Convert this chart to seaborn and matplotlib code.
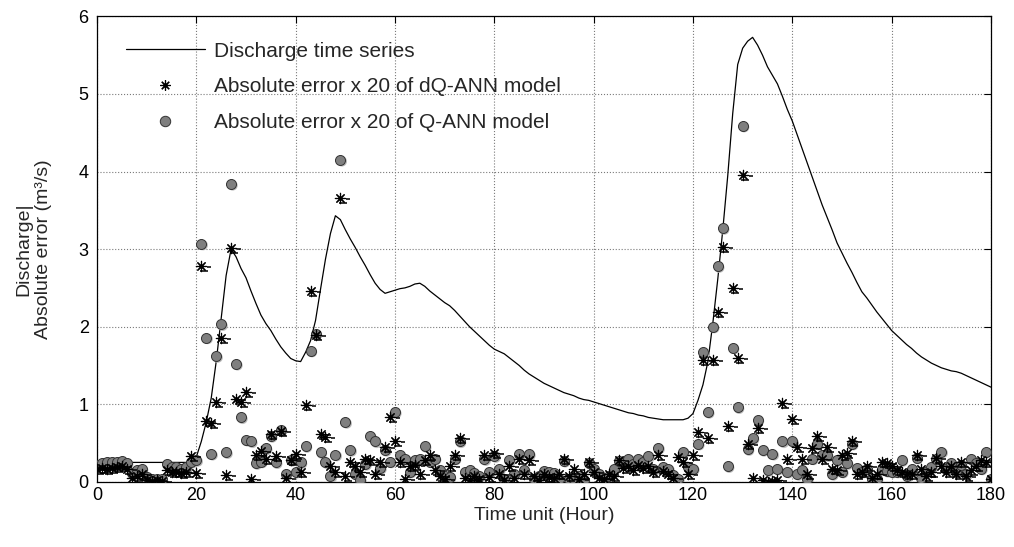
import matplotlib
matplotlib.use("Agg")
import matplotlib.pyplot as plt
import seaborn as sns
import pandas as pd
from matplotlib import transforms
from matplotlib.lines import Line2D

# ---------------- data ----------------
hours = list(range(181))

discharge = [
    0.25, 0.25, 0.25, 0.25, 0.25, 0.25, 0.25, 0.25, 0.25, 0.25,   # 0-9
    0.25, 0.25, 0.25, 0.25, 0.25, 0.25, 0.25, 0.25, 0.25, 0.27,   # 10-19
    0.32, 0.52, 0.77, 1.08, 1.55, 2.10, 2.66, 3.00, 2.90, 2.75,   # 20-29
    2.63, 2.46, 2.30, 2.15, 2.04, 1.95, 1.84, 1.74, 1.66, 1.59,   # 30-39
    1.56, 1.55, 1.67, 1.82, 2.08, 2.48, 2.87, 3.20, 3.43, 3.38,   # 40-49
    3.25, 3.13, 3.02, 2.90, 2.79, 2.67, 2.56, 2.48, 2.43, 2.45,   # 50-59
    2.47, 2.49, 2.50, 2.52, 2.55, 2.56, 2.52, 2.46, 2.41, 2.36,   # 60-69
    2.31, 2.27, 2.21, 2.14, 2.07, 2.00, 1.94, 1.88, 1.82, 1.76,   # 70-79
    1.71, 1.68, 1.65, 1.60, 1.55, 1.50, 1.44, 1.39, 1.35, 1.31,   # 80-89
    1.27, 1.24, 1.21, 1.18, 1.15, 1.13, 1.11, 1.08, 1.06, 1.05,   # 90-99
    1.03, 1.01, 0.99, 0.97, 0.95, 0.93, 0.91, 0.89, 0.88, 0.86,   # 100-109
    0.85, 0.83, 0.82, 0.81, 0.80, 0.80, 0.80, 0.80, 0.80, 0.82,   # 110-119
    0.88, 1.05, 1.25, 1.55, 2.05, 2.62, 3.25, 3.95, 4.75, 5.38,   # 120-129
    5.59, 5.68, 5.73, 5.63, 5.50, 5.35, 5.24, 5.13, 4.97, 4.80,   # 130-139
    4.65, 4.47, 4.29, 4.11, 3.93, 3.75, 3.57, 3.41, 3.25, 3.08,   # 140-149
    2.95, 2.82, 2.70, 2.57, 2.45, 2.37, 2.28, 2.19, 2.11, 2.03,   # 150-159
    1.95, 1.89, 1.83, 1.77, 1.72, 1.66, 1.61, 1.57, 1.53, 1.50,   # 160-169
    1.47, 1.45, 1.43, 1.42, 1.40, 1.37, 1.34, 1.31, 1.28, 1.25,   # 170-179
    1.22,                                                         # 180
]

err_dq = [
    0.17, 0.18, 0.16, 0.18, 0.19, 0.20, 0.17, 0.05, 0.08, 0.10,   # 0-9
    0.02, 0.01, 0.02, 0.01, 0.15, 0.12, 0.13, 0.11, 0.12, 0.33,   # 10-19
    0.11, 2.78, 0.79, 0.76, 1.03, 1.85, 0.09, 3.01, 1.07, 1.03,   # 20-29
    1.16, 0.03, 0.35, 0.40, 0.30, 0.62, 0.33, 0.65, 0.05, 0.28,   # 30-39
    0.36, 0.12, 0.99, 2.46, 1.89, 0.62, 0.58, 0.20, 0.13, 3.66,   # 40-49
    0.07, 0.26, 0.20, 0.12, 0.30, 0.28, 0.10, 0.25, 0.45, 0.84,   # 50-59
    0.52, 0.25, 0.04, 0.20, 0.22, 0.10, 0.28, 0.34, 0.15, 0.08,   # 60-69
    0.04, 0.20, 0.34, 0.56, 0.05, 0.02, 0.08, 0.03, 0.34, 0.06,   # 70-79
    0.37, 0.10, 0.02, 0.20, 0.05, 0.30, 0.10, 0.28, 0.07, 0.02,   # 80-89
    0.10, 0.06, 0.05, 0.10, 0.29, 0.08, 0.16, 0.03, 0.10, 0.26,   # 90-99
    0.12, 0.05, 0.04, 0.10, 0.08, 0.28, 0.18, 0.20, 0.15, 0.22,   # 100-109
    0.18, 0.20, 0.12, 0.35, 0.14, 0.10, 0.05, 0.32, 0.25, 0.10,   # 110-119
    0.35, 0.64, 1.57, 0.56, 1.57, 2.19, 3.03, 0.72, 2.50, 1.60,   # 120-129
    3.95, 0.49, 0.05, 0.69, 0.02, 0.00, 0.01, 0.02, 1.02, 0.30,   # 130-139
    0.81, 0.45, 0.29, 0.10, 0.44, 0.59, 0.30, 0.45, 0.17, 0.15,   # 140-149
    0.34, 0.37, 0.53, 0.10, 0.12, 0.21, 0.05, 0.10, 0.25, 0.24,   # 150-159
    0.20, 0.15, 0.12, 0.10, 0.10, 0.34, 0.16, 0.08, 0.12, 0.31,   # 160-169
    0.20, 0.12, 0.20, 0.10, 0.26, 0.08, 0.15, 0.20, 0.28, 0.26,   # 170-179
    0.04,                                                         # 180
]

err_q = [
    0.22, 0.24, 0.25, 0.25, 0.26, 0.27, 0.24, 0.11, 0.15, 0.17,   # 0-9
    0.06, 0.04, 0.04, 0.03, 0.23, 0.19, 0.19, 0.17, 0.19, 0.26,   # 10-19
    0.28, 3.07, 1.86, 0.36, 1.62, 2.03, 0.38, 3.84, 1.52, 0.83,   # 20-29
    0.54, 0.52, 0.24, 0.26, 0.43, 0.59, 0.25, 0.67, 0.10, 0.28,   # 30-39
    0.13, 0.25, 0.46, 1.69, 1.91, 0.38, 0.25, 0.07, 0.35, 4.15,   # 40-49
    0.77, 0.41, 0.10, 0.02, 0.23, 0.59, 0.52, 0.18, 0.41, 0.26,   # 50-59
    0.90, 0.34, 0.30, 0.13, 0.28, 0.30, 0.46, 0.26, 0.30, 0.15,   # 60-69
    0.07, 0.06, 0.30, 0.52, 0.13, 0.15, 0.11, 0.07, 0.29, 0.13,   # 70-79
    0.33, 0.17, 0.03, 0.28, 0.10, 0.36, 0.15, 0.36, 0.03, 0.07,   # 80-89
    0.14, 0.13, 0.11, 0.03, 0.27, 0.04, 0.04, 0.07, 0.02, 0.24,   # 90-99
    0.17, 0.10, 0.02, 0.07, 0.17, 0.27, 0.24, 0.30, 0.23, 0.30,   # 100-109
    0.26, 0.33, 0.16, 0.44, 0.19, 0.17, 0.09, 0.04, 0.39, 0.19,   # 110-119
    0.17, 0.49, 1.67, 0.90, 2.00, 2.78, 3.27, 0.20, 1.73, 0.96,   # 120-129
    4.59, 0.42, 0.56, 0.80, 0.41, 0.15, 0.36, 0.17, 0.52, 0.13,   # 130-139
    0.52, 0.10, 0.15, 0.03, 0.30, 0.49, 0.34, 0.34, 0.10, 0.28,   # 140-149
    0.13, 0.24, 0.49, 0.18, 0.13, 0.16, 0.03, 0.03, 0.16, 0.14,   # 150-159
    0.13, 0.13, 0.28, 0.07, 0.16, 0.31, 0.05, 0.13, 0.19, 0.29,   # 160-169
    0.39, 0.16, 0.24, 0.13, 0.22, 0.10, 0.29, 0.24, 0.17, 0.39,   # 170-179
    0.03,                                                         # 180
]

x_ticks = [0, 20, 40, 60, 80, 100, 120, 140, 160, 180]
y_ticks = [0, 1, 2, 3, 4, 5, 6]
legend_labels = ["Discharge time series",
                 "Absolute error x 20 of dQ-ANN model",
                 "Absolute error x 20 of Q-ANN model"]

assert len(discharge) == len(err_dq) == len(err_q) == len(hours)

df = pd.DataFrame({"hour": hours, "discharge": discharge,
                   "dq": err_dq, "q": err_q})

# ---------------- style ----------------
sns.set_style("white")
plt.rcParams["font.family"] = ["Liberation Sans", "DejaVu Sans"]
plt.rcParams["font.size"] = 13

fig = plt.figure(figsize=(10.14, 5.47), dpi=100)
ax = fig.add_axes([97 / 1014, 1 - 481.8 / 547, 894 / 1014, 465.4 / 547])

def shifted(dx_px, dy_px):
    return ax.transData + transforms.ScaledTranslation(dx_px / 100, dy_px / 100,
                                                       fig.dpi_scale_trans)

# discharge line
sns.lineplot(data=df, x="hour", y="discharge", color="black", lw=0.9,
             ax=ax, legend=False, zorder=3)

# Q-ANN circles: light shadow then the grey dots
sns.scatterplot(data=df, x="hour", y="q", ax=ax, s=55, color="#bdbdbd",
                edgecolor="none", linewidth=0, legend=False, zorder=4,
                transform=shifted(1.5, -1.5))
sns.scatterplot(data=df, x="hour", y="q", ax=ax, s=52, color="#7f7f7f",
                edgecolor="#333333", linewidth=0.7, legend=False, zorder=5)

# dQ-ANN asterisks with their little dash shadows
sns.scatterplot(data=df, x="hour", y="dq", ax=ax, marker="_", s=30,
                color="black", linewidth=1.1, legend=False, zorder=6,
                transform=shifted(2.5, -5))
sns.scatterplot(data=df, x="hour", y="dq", ax=ax, marker="_", s=10,
                color="black", linewidth=1.1, legend=False, zorder=6,
                transform=shifted(8, -1))
sns.scatterplot(data=df, x="hour", y="dq", ax=ax, marker=(8, 2, 0), s=55,
                color="black", linewidth=0.85, legend=False, zorder=7)

# ---------------- axes ----------------
ax.set_xlim(0, 180)
ax.set_ylim(0, 6)
ax.set_xticks(x_ticks)
ax.set_yticks(y_ticks)
ax.grid(True, color="#7a7a7a", linestyle=":", linewidth=0.8)
ax.set_axisbelow(True)
for sp in ax.spines.values():
    sp.set_visible(True)
    sp.set_color("black")
    sp.set_linewidth(0.9)
ax.tick_params(direction="in", length=5, width=0.8, top=True, right=True,
               labelsize=13, pad=6, colors="black")
ax.tick_params(axis="x", pad=4)

ax.set_xlabel("Time unit (Hour)", fontsize=14, labelpad=2)
ax.set_ylabel("Discharge|\nAbsolute error (m³/s)", fontsize=14, labelpad=19,
              linespacing=1.25)

handles = [
    Line2D([], [], color="black", lw=0.9),
    Line2D([], [], marker=(8, 2, 0), ls="none", color="black", ms=7.5, mew=0.85),
    Line2D([], [], marker="o", ls="none", mfc="#7f7f7f", mec="#333333",
           ms=7.5, mew=0.7),
]
ax.legend(handles, legend_labels, loc="upper left",
          bbox_to_anchor=(0.032, 0.946), frameon=False, fontsize=15,
          handlelength=3.8, handletextpad=0.43, labelspacing=0.8,
          borderpad=0, borderaxespad=0)

fig.savefig("out.png", dpi=100)
